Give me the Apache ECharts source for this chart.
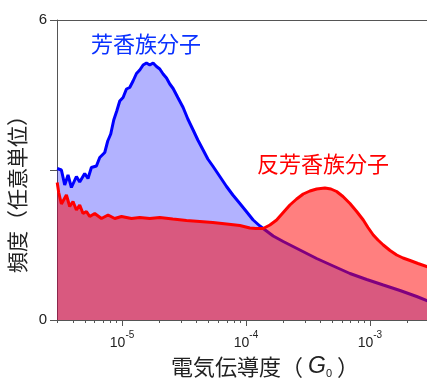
<!DOCTYPE html>
<html>
<head>
<meta charset="utf-8">
<script src="https://cdn.jsdelivr.net/npm/echarts@6/dist/echarts.min.js"></script>
<style>
html,body{margin:0;padding:0;background:#fff;}
#c{width:427px;height:378px;}
</style>
</head>
<body>
<div id="c"></div>
<script>
// Conductance (G0) and frequency (arb. units)
const aromaticG = [2.997e-6,3.24e-6,3.445e-6,3.664e-6,3.902e-6,4.281e-6,4.551e-6,4.995e-6,5.31e-6,5.656e-6,6.21e-6,6.605e-6,7.249e-6,7.664e-6,8.103e-6,8.569e-6,9.062e-6,9.581e-6,1.019e-5,1.085e-5,1.153e-5,1.227e-5,1.307e-5,1.39e-5,1.479e-5,1.574e-5,1.674e-5,1.78e-5,1.897e-5,2.016e-5,2.144e-5,2.284e-5,2.428e-5,2.582e-5,2.818e-5,3.11e-5,3.395e-5,3.745e-5,4.088e-5,4.51e-5,4.922e-5,5.43e-5,6.153e-5,6.968e-5,7.836e-5,8.927e-5,1.007e-4,1.143e-4,1.295e-4,1.377e-4,1.658e-4,1.998e-4,2.725e-4,3.718e-4,5.063e-4,6.906e-4,9.424e-4,1.283e-3,1.75e-3,2.388e-3,2.945e-3];
const aromaticV = [3.03,3.0,2.70,2.9,2.65,2.87,2.76,2.93,2.83,3.05,3.08,3.25,3.35,3.58,3.72,4.0,4.18,4.38,4.45,4.62,4.65,4.78,4.93,5.0,5.1,5.14,5.1,5.14,5.07,5.02,4.92,4.84,4.72,4.63,4.45,4.25,4.02,3.8,3.6,3.4,3.22,3.07,2.87,2.67,2.5,2.33,2.17,2.0,1.88,1.83,1.68,1.57,1.4,1.23,1.08,0.93,0.81,0.7,0.59,0.47,0.38];

const antiG = [2.997e-6,3.081e-6,3.24e-6,3.556e-6,3.78e-6,4.018e-6,4.281e-6,4.551e-6,4.842e-6,5.159e-6,5.483e-6,6.017e-6,6.817e-6,7.706e-6,8.73e-6,9.89e-6,1.191e-5,1.39e-5,1.674e-5,2.016e-5,2.567e-5,3.312e-5,4.242e-5,5.4e-5,6.968e-5,8.927e-5,1.075e-4,1.202e-4,1.377e-4,1.56e-4,1.767e-4,1.998e-4,2.262e-4,2.563e-4,2.897e-4,3.282e-4,3.718e-4,4.337e-4,4.85e-4,5.391e-4,6.063e-4,6.906e-4,7.823e-4,8.844e-4,9.654e-4,1.065e-3,1.162e-3,1.283e-3,1.454e-3,1.646e-3,1.851e-3,2.109e-3,2.446e-3,2.945e-3];
const antiV = [2.75,2.55,2.32,2.5,2.27,2.37,2.2,2.3,2.13,2.17,2.07,2.13,2.03,2.1,2.03,2.07,2.03,2.05,2.03,2.05,2.02,1.99,1.97,1.95,1.92,1.89,1.84,1.83,1.83,1.9,2.0,2.15,2.3,2.42,2.52,2.58,2.62,2.64,2.62,2.57,2.47,2.33,2.17,2.0,1.85,1.7,1.6,1.5,1.39,1.3,1.24,1.19,1.13,1.06];

const majorTicks = [1e-5, 1e-4, 1e-3];
const minorTicks = [3e-6,4e-6,5e-6,6e-6,7e-6,8e-6,9e-6,2e-5,3e-5,4e-5,5e-5,6e-5,7e-5,8e-5,9e-5,2e-4,3e-4,4e-4,5e-4,6e-4,7e-4,8e-4,9e-4,2e-3];
const yTicks = [0, 3, 6];
const yLabels = {0: '0', 6: '6'};
const xMinG = 2.985e-6, xMaxG = 2.89e-3;

const L = Math.log10;
const toPts = (g, v) => g.map((x, i) => [L(x), v[i]]);
const xMin = L(xMinG), xMax = L(xMaxG);
const axisColor = '#555';

const chart = echarts.init(document.getElementById('c'), null, {renderer: 'canvas'});
chart.setOption({
  animation: false,
  backgroundColor: '#fff',
  grid: {left: 57, top: 20, right: 0, bottom: 58, containLabel: false, outerBoundsMode: 'none'},
  xAxis: [
    {
      type: 'value', min: xMin, max: xMax, position: 'bottom',
      axisLine: {show: true, lineStyle: {color: axisColor, width: 1}},
      axisTick: {show: true, customValues: majorTicks.map(L), length: 6, lineStyle: {color: axisColor}},
      axisLabel: {
        customValues: majorTicks.map(L), margin: 10,
        formatter: v => '{b|10}{s|' + Math.round(v) + '}',
        rich: {
          b: {fontSize: 14, fontFamily: 'Liberation Sans', color: '#222', lineHeight: 20, verticalAlign: 'bottom'},
          s: {fontSize: 10, fontFamily: 'Liberation Sans', color: '#222', lineHeight: 10, verticalAlign: 'top'}
        }
      },
      splitLine: {show: false},
      name: '{a|電気伝導度（ }{g|G}{s|0}{a| ）}',
      nameLocation: 'middle', nameGap: 35,
      nameTextStyle: {
        padding: [0, 0, 0, 46],
        rich: {
          a: {fontSize: 22, fontFamily: 'Noto Sans CJK JP', color: '#222', lineHeight: 24},
          g: {fontSize: 23, fontFamily: 'Liberation Sans', fontStyle: 'italic', color: '#222', lineHeight: 24},
          s: {fontSize: 11, fontFamily: 'Liberation Sans', color: '#222', lineHeight: 10, verticalAlign: 'bottom'}
        }
      }
    },
    {
      type: 'value', min: xMin, max: xMax, position: 'bottom',
      axisLine: {show: false},
      axisTick: {show: true, customValues: minorTicks.map(L), length: 3, lineStyle: {color: axisColor}},
      axisLabel: {show: false},
      splitLine: {show: false}
    },
    {
      type: 'value', min: xMin, max: xMax, position: 'top',
      axisLine: {show: true, lineStyle: {color: axisColor, width: 1}},
      axisTick: {show: false}, axisLabel: {show: false}, splitLine: {show: false}
    }
  ],
  yAxis: {
    type: 'value', min: 0, max: 6, interval: 3,
    axisLine: {show: true, lineStyle: {color: axisColor, width: 1}},
    axisTick: {show: true, length: 7, lineStyle: {color: axisColor}},
    axisLabel: {
      margin: 10, fontSize: 15, fontFamily: 'Liberation Sans', color: '#222',
      formatter: v => (yLabels[v] !== undefined ? yLabels[v] : '')
    },
    splitLine: {show: false},
    name: '頻度（任意単位）',
    nameLocation: 'middle', nameGap: 19, nameRotate: 90,
    nameTextStyle: {fontSize: 21, fontFamily: 'Noto Sans CJK JP', color: '#222', padding: [0, 38, 0, 0]}
  },
  series: [
    {
      name: '芳香族分子', type: 'line', xAxisIndex: 0, z: 2,
      data: toPts(aromaticG, aromaticV),
      symbol: 'none', smooth: false,
      lineStyle: {color: '#0000ff', width: 3},
      areaStyle: {color: 'rgba(0,0,255,0.3)', opacity: 1}
    },
    {
      name: '反芳香族分子', type: 'line', xAxisIndex: 0, z: 3,
      data: toPts(antiG, antiV),
      symbol: 'none', smooth: false,
      lineStyle: {color: '#ff0000', width: 3},
      areaStyle: {color: 'rgba(255,0,0,0.5)', opacity: 1}
    }
  ],
  graphic: [
    {type: 'text', x: 146, y: 44, style: {text: '芳香族分子', fontSize: 22, fontFamily: 'Noto Sans CJK JP', fill: '#0a32ff', align: 'center', verticalAlign: 'middle'}},
    {type: 'text', x: 323, y: 164, style: {text: '反芳香族分子', fontSize: 22, fontFamily: 'Noto Sans CJK JP', fill: '#ff0000', align: 'center', verticalAlign: 'middle'}}
  ]
});
</script>
</body>
</html>
